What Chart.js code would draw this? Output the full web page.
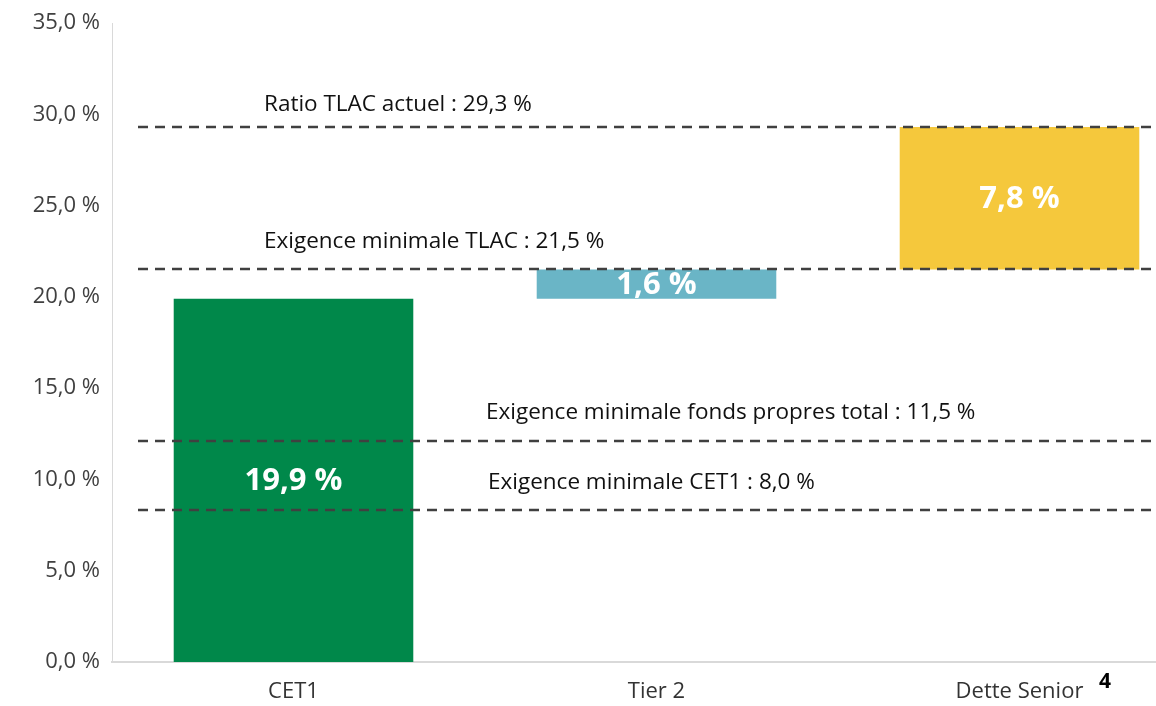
<!DOCTYPE html>
<html>
<head>
<meta charset="utf-8">
<script src="https://cdn.jsdelivr.net/npm/chart.js@4.4.0/dist/chart.umd.min.js"></script>
<style>
  html, body { margin: 0; padding: 0; background: #fff; overflow: hidden; }
  #wrap { width: 1201px; height: 706px; }
</style>
</head>
<body>
<div id="wrap"><canvas id="tlacChart" width="1201" height="706"></canvas></div>
<script>
// chart values
const categories = ["CET1", "Tier 2", "Dette Senior"];
const barStarts = [0, 19.9, 21.5];
const barEnds = [19.9, 21.5, 29.3];
const barLabels = ["19,9 %", "1,6 %", "7,8 %"];
const barColors = ["#00884A", "#6AB5C6", "#F5C83C"];
const refLevels = [29.3, 21.5, 12.1, 8.3];
const refLabels = [
    "Ratio TLAC actuel : 29,3 %",
    "Exigence minimale TLAC : 21,5 %",
    "Exigence minimale fonds propres total : 11,5 %",
    "Exigence minimale CET1 : 8,0 %"
];
const yMin = 0, yMax = 35, yStep = 5;
const footnote = "4";

const FONT = "'Open Sans', sans-serif";
const labelX = [264, 264, 486, 488];   // where each reference label starts

// dashed reference lines + texts
const refLinesPlugin = {
    id: "refLines",
    afterDatasetsDraw(c) {
        const ctx = c.ctx;
        const y = c.scales.y;
        ctx.save();
        ctx.strokeStyle = "#404040";
        ctx.lineWidth = 2.5;
        ctx.setLineDash([10, 7]);
        refLevels.forEach((v, i) => {
            const py = Math.round(y.getPixelForValue(v));
            ctx.beginPath();
            ctx.moveTo(138, py);
            ctx.lineTo(1201, py);
            ctx.stroke();
        });
        ctx.setLineDash([]);
        ctx.fillStyle = "#111";
        ctx.font = "22.5px " + FONT;
        ctx.textBaseline = "middle";
        ctx.textAlign = "left";
        refLevels.forEach((v, i) => {
            const py = y.getPixelForValue(v);
            ctx.fillText(refLabels[i], labelX[i], py - (i === 0 ? 22 : 28));
        });

        // values inside the bars
        const meta = c.getDatasetMeta(0);
        ctx.fillStyle = "#fff";
        ctx.font = "bold 31px " + FONT;
        ctx.textAlign = "center";
        meta.data.forEach((bar, i) => {
            const mid = y.getPixelForValue((barStarts[i] + barEnds[i]) / 2);
            ctx.fillText(barLabels[i], bar.x, mid + 1);
        });

        // footnote marker next to last category
        ctx.fillStyle = "#000";
        ctx.font = "bold 21px " + FONT;
        ctx.textAlign = "left";
        ctx.fillText(footnote, 1099, 682);
        ctx.restore();
    }
};

const ctx = document.getElementById("tlacChart").getContext("2d");

new Chart(ctx, {
    type: "bar",
    data: {
        labels: categories,
        datasets: [{
            data: barStarts.map((s, i) => [s, barEnds[i]]),
            backgroundColor: barColors,
            borderWidth: 0,
            barPercentage: 0.66,
            categoryPercentage: 1.0
        }]
    },
    options: {
        responsive: false,
        animation: false,
        layout: { padding: { top: 22, left: 0, right: 0, bottom: 0 } },
        plugins: {
            legend: { display: false },
            tooltip: { enabled: false }
        },
        scales: {
            x: {
                grid: { display: false, drawTicks: false },
                border: { color: "#d9d9d9", width: 2 },
                ticks: {
                    color: "#333",
                    font: { family: FONT, size: 22 },
                    padding: 17
                },
                afterFit: (s) => { s.height = 44; }
            },
            y: {
                min: yMin, max: yMax,
                grid: { display: false, drawTicks: false },
                border: { color: "#d9d9d9", width: 1 },
                ticks: {
                    stepSize: yStep,
                    color: "#404040",
                    font: { family: FONT, size: 22, lineHeight: 1 },
                    padding: 12,
                    callback: (v) => v.toFixed(1).replace(".", ",") + " %"
                },
                afterFit: (s) => { s.width = 112; }
            }
        }
    },
    plugins: [refLinesPlugin]
});
</script>
</body>
</html>
